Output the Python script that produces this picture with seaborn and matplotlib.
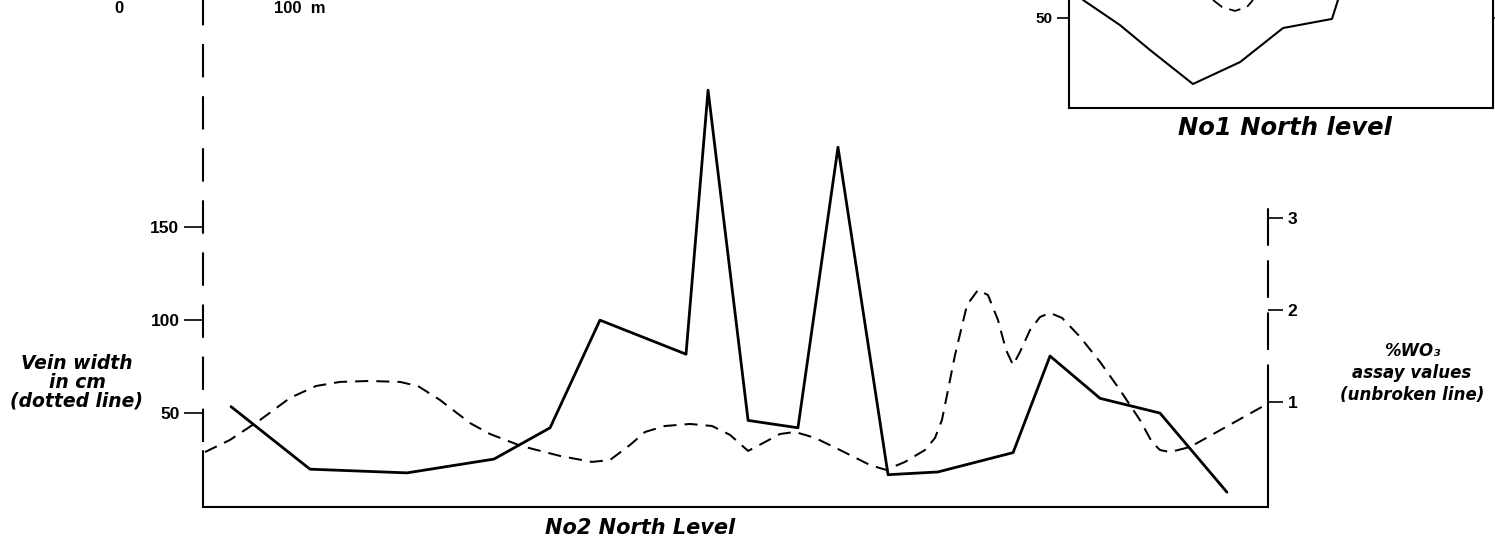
import matplotlib
matplotlib.use("Agg")
import matplotlib.pyplot as plt
import seaborn as sns
import pandas as pd

# ---------------- data ----------------
# No2 North Level: WO3 assay (%), unbroken line, right axis
assay_dist = [15.4, 58.8, 112.1, 159.9, 190.7, 218.1, 265.4, 277.5, 299.5,
              326.9, 348.9, 376.4, 403.8, 445.1, 465.4, 492.9, 525.8, 562.6]
assay_wo3 = [0.95, 0.27, 0.23, 0.38, 0.72, 1.89, 1.52, 4.39, 0.80,
             0.72, 3.77, 0.21, 0.24, 0.45, 1.50, 1.04, 0.88, 0.02]

# No2 North Level: vein width (cm), dotted line, left axis
width_dist = [1.1, 14.8, 31.3, 47.8, 62.1, 75.3, 91.2, 108.2, 118.1, 130.2,
              146.7, 157.7, 174.7, 196.2, 213.7, 223.6, 234.6, 242.9, 253.8,
              267.6, 279.7, 289.6, 299.5, 308.8, 317.0, 325.3, 336.3, 350.0,
              366.5, 375.3, 385.7, 396.7, 402.2, 406.0, 408.8, 413.2, 419.8,
              425.8, 431.3, 436.8, 441.2, 445.1, 448.9, 454.4, 459.9, 465.4,
              472.0, 481.9, 492.9, 503.8, 514.8, 521.4, 525.8, 531.3, 542.3,
              584.6]
width_cm = [29.0, 35.5, 46.2, 58.1, 64.5, 66.7, 67.2, 66.7, 64.5, 57.0,
            44.6, 38.7, 32.3, 26.9, 23.7, 24.7, 32.8, 39.8, 43.0,
            44.1, 43.0, 38.2, 29.6, 34.4, 38.7, 39.8, 36.6, 30.1,
            22.0, 19.4, 23.7, 30.1, 36.6, 46.2, 59.7, 81.2, 108.1,
            116.1, 113.4, 100.0, 83.9, 75.8, 82.8, 94.6, 101.6, 103.8,
            101.1, 90.9, 77.4, 62.4, 46.2, 34.4, 30.1, 29.0, 31.7,
            54.8]

# No1 North level (inset)
n1_assay_dist = [7.7, 28.0, 44.5, 68.1, 94.0, 117.6, 144.5, 147.8]
n1_assay_val = [59.7, 46.2, 32.8, 14.5, 26.3, 44.6, 49.5, 59.7]
n1_width_dist = [79.1, 84.1, 91.2, 97.8, 101.1]
n1_width_val = [59.7, 55.9, 53.8, 55.9, 59.7]

left_ticks = [50, 100, 150]
right_ticks = [1, 2, 3]
inset_ticks = [50]

main_title = "No2 North Level"
inset_title = "No1 North level"
left_label = "Vein width\nin cm\n(dotted line)"
right_label = "%WO₃\nassay values\n(unbroken line)"

# ---------------- style ----------------
sns.set_theme(style="white")
plt.rcParams["font.family"] = ["DejaVu Sans"]
plt.rcParams["font.weight"] = "bold"
for k in ["text.color", "axes.labelcolor", "xtick.color", "ytick.color",
          "axes.edgecolor"]:
    plt.rcParams[k] = "black"

W, H = 1495, 549
fig = plt.figure(figsize=(W / 100, H / 100), dpi=100)
fig.patch.set_facecolor("white")


def rect(l, t, r, b):
    return [l / W, 1 - b / H, (r - l) / W, (b - t) / H]


ink = "black"
font = dict(fontweight="bold", fontstyle="italic", color=ink)
tickfont = ["Liberation Sans", "DejaVu Sans"]

# ---------------- main axes ----------------
ax = fig.add_axes(rect(203, 0, 1268, 507))
ax.set_facecolor("none")
xmax = (1268 - 203) / 1.82
ax.set_xlim(0, xmax)
ax.set_ylim(-0.54, 272)

df_w = pd.DataFrame({"d": width_dist, "v": width_cm})
sns.lineplot(data=df_w, x="d", y="v", ax=ax, color=ink, lw=1.45,
             linestyle=(0, (6.5, 4)), sort=False, estimator=None)

for s in ["top", "right", "left"]:
    ax.spines[s].set_visible(False)
ax.spines["bottom"].set_color(ink)
ax.spines["bottom"].set_linewidth(1.5)
ax.set_xticks([])
ax.set_yticks(left_ticks)
ax.set_yticklabels([str(t) for t in left_ticks], fontsize=12.5,
                   fontweight="bold", family=tickfont, color=ink)
ax.tick_params(axis="y", left=True, direction="out", length=14, width=1.2,
               color=ink, labelcolor=ink, pad=3)
ax.set_xlabel("")
ax.set_ylabel("")

# left spine: solid at the bottom, dashed above
ax.axvline(0, ymin=0, ymax=(507 - 451) / 507, color=ink, lw=1.5, clip_on=False)
ax.axvline(0, ymin=(507 - 442) / 507, ymax=1, color=ink, lw=1.5,
           linestyle=(0, (16, 9)), clip_on=False)
# right spine: solid up to tick 1, dashed above
ax.axvline(xmax, ymin=0, ymax=(507 - 402) / 507, color=ink, lw=1.5, clip_on=False)
ax.axvline(xmax, ymin=(507 - 402) / 507, ymax=(507 - 203) / 507, color=ink,
           lw=1.5, linestyle=(0, (18, 7)), clip_on=False)

ax2 = ax.twinx()
ax2.set_ylim(-0.141, 5.37)
df_a = pd.DataFrame({"d": assay_dist, "v": assay_wo3})
sns.lineplot(data=df_a, x="d", y="v", ax=ax2, color=ink, lw=2.0,
             sort=False, estimator=None)
for s in ax2.spines.values():
    s.set_visible(False)
ax2.set_yticks(right_ticks)
ax2.set_yticklabels([str(t) for t in right_ticks], fontsize=12.5,
                    fontweight="bold", family=tickfont, color=ink)
ax2.tick_params(axis="y", right=True, direction="out", length=11, width=1.2,
                color=ink, labelcolor=ink, pad=3)
ax2.set_ylabel("")
ax2.set_xlabel("")

# ---------------- inset: No1 North level ----------------
axi = fig.add_axes(rect(1069, -292, 1493, 108))
axi.set_facecolor("none")
axi.set_xlim(0, (1493 - 1069) / 1.82)
axi.set_ylim(1.6, 216.7)
df_n1a = pd.DataFrame({"d": n1_assay_dist, "v": n1_assay_val})
df_n1w = pd.DataFrame({"d": n1_width_dist, "v": n1_width_val})
sns.lineplot(data=df_n1a, x="d", y="v", ax=axi, color=ink, lw=1.5,
             sort=False, estimator=None)
sns.lineplot(data=df_n1w, x="d", y="v", ax=axi, color=ink, lw=1.3,
             linestyle=(0, (6.5, 4)), sort=False, estimator=None)
axi.spines["top"].set_visible(False)
for s in ["left", "bottom", "right"]:
    axi.spines[s].set_color(ink)
    axi.spines[s].set_linewidth(1.5)
axi.set_xticks([])
axi.set_yticks(inset_ticks)
axi.set_yticklabels([str(t) for t in inset_ticks], fontsize=11,
                    fontweight="bold", family=tickfont, color=ink)
axi.tick_params(axis="y", left=True, right=True, direction="out", length=9,
                width=1.2, color=ink, labelcolor=ink, pad=3)
axi.set_xlabel("")
axi.set_ylabel("")

# ---------------- texts ----------------
fig.text(640 / W, 1 - 528 / H, main_title, ha="center", va="center",
         fontsize=15, **font)
fig.text(1285 / W, 1 - 128 / H, inset_title, ha="center", va="center",
         fontsize=17.5, **font)
fig.text(77 / W, 1 - 382 / H, left_label, ha="center", va="center",
         fontsize=13.5, linespacing=0.98, **font)
fig.text(1412 / W, 1 - 373 / H, right_label, ha="center", va="center",
         fontsize=12, linespacing=1.3, **font)
# scale bar labels at the top edge
fig.text(119 / W, 1 - 1 / H, "0", ha="center", va="top", fontsize=12,
         fontweight="bold", color=ink, family=tickfont)
fig.text(300 / W, 1 - 1 / H, "100  m", ha="center", va="top", fontsize=12,
         fontweight="bold", color=ink, family=tickfont)

fig.savefig("out.png", dpi=100, facecolor="white")
